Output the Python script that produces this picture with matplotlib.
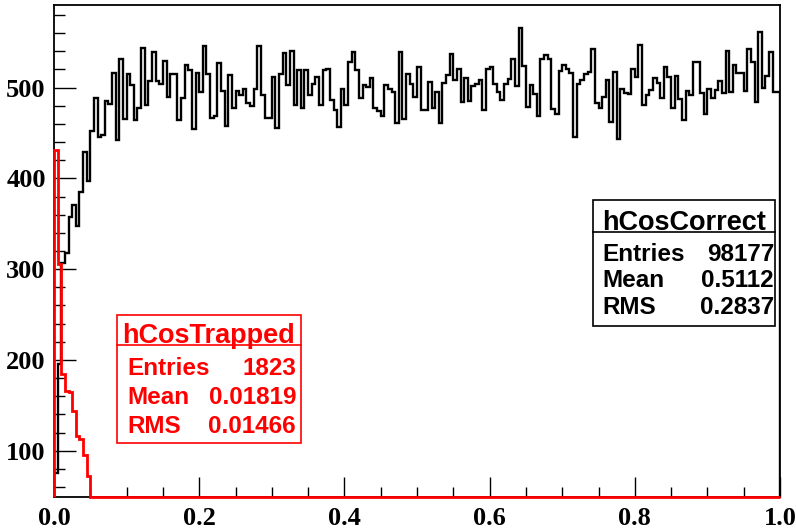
import numpy as np
import matplotlib
matplotlib.use("Agg")
import matplotlib.pyplot as plt
from matplotlib.patches import Rectangle
from matplotlib.ticker import MultipleLocator

# 200 bins from 0 to 1
nbins = 200
edges = np.linspace(0.0, 1.0, nbins + 1)

# hCosCorrect counts
correct = [
    75, 195, 307, 318, 358, 371, 348, 385, 429, 397,
    452, 488, 446, 448, 485, 482, 516, 442, 531, 465,
    515, 503, 464, 478, 544, 481, 507, 539, 507, 504,
    529, 490, 515, 515, 464, 489, 525, 519, 454, 516,
    495, 546, 515, 467, 469, 527, 496, 458, 514, 478,
    496, 492, 499, 483, 480, 499, 546, 492, 467, 466,
    512, 456, 515, 538, 503, 540, 481, 519, 478, 519,
    492, 504, 512, 481, 519, 520, 486, 475, 457, 499,
    481, 528, 539, 519, 489, 503, 501, 511, 478, 474,
    469, 503, 498, 495, 461, 539, 465, 515, 504, 490,
    523, 475, 475, 506, 478, 495, 461, 505, 514, 537,
    508, 520, 484, 511, 485, 502, 504, 508, 475, 520,
    523, 504, 495, 486, 504, 510, 531, 502, 566, 524,
    479, 503, 493, 469, 531, 536, 531, 476, 471, 518,
    525, 520, 516, 446, 504, 508, 515, 517, 542, 483,
    478, 490, 508, 462, 517, 443, 499, 494, 493, 520,
    512, 547, 481, 492, 497, 511, 505, 488, 523, 512,
    477, 513, 487, 464, 496, 492, 528, 528, 494, 471,
    498, 489, 497, 507, 494, 540, 495, 525, 516, 516,
    496, 542, 528, 484, 561, 500, 513, 539, 495, 495,
]

# hCosTrapped counts (only the first bins are filled)
trapped_head = [431, 306, 184, 166, 165, 144, 116, 113, 95, 72, 20, 8, 3]
trapped = trapped_head + [0] * (nbins - len(trapped_head))

correct_stats = [("Entries", "98177"), ("Mean", "0.5112"), ("RMS", "0.2837")]
trapped_stats = [("Entries", "1823"), ("Mean", "0.01819"), ("RMS", "0.01466")]

ymin, ymax = 49, 591
W, H = 796, 529

fig = plt.figure(figsize=(W / 100, H / 100), dpi=100)
ax = fig.add_axes([54 / W, 1 - 497 / H, (780 - 54) / W, (497 - 5) / H])

ax.stairs(np.maximum(correct, ymin), edges, color="black", linewidth=1.7,
          baseline=ymin, zorder=3)
ax.stairs(np.maximum(trapped, ymin), edges, color="#ff0000", linewidth=2.0,
          baseline=ymin, zorder=4, clip_on=False)

ax.set_xlim(0, 1)
ax.set_ylim(ymin, ymax)

ax.xaxis.set_major_locator(MultipleLocator(0.2))
ax.xaxis.set_minor_locator(MultipleLocator(0.05))
ax.yaxis.set_major_locator(MultipleLocator(100))
ax.yaxis.set_minor_locator(MultipleLocator(20))
ax.xaxis.set_major_formatter(lambda v, p: f"{v:.1f}")
ax.yaxis.set_major_formatter(lambda v, p: f"{v:.0f}")

ax.tick_params(axis="x", which="major", direction="in", length=14.4, width=1.0, pad=7)
ax.tick_params(axis="x", which="minor", direction="in", length=7.2, width=1.0)
ax.tick_params(axis="y", which="major", direction="in", length=15.8, width=1.0, pad=6)
ax.tick_params(axis="y", which="minor", direction="in", length=7.9, width=1.0)
for lab in ax.get_xticklabels() + ax.get_yticklabels():
    lab.set_fontfamily("Liberation Serif")
    lab.set_fontweight("bold")
    lab.set_fontsize(19)
for s in ax.spines.values():
    s.set_linewidth(1.3)


def fx(x):
    return x / W


def fy(y):
    return 1 - y / H


def stat_box(x0, x1, y0, y1, ysep, title, title_base, rows, row_base, lx, rx, color):
    fig.add_artist(Rectangle((fx(x0), fy(y1)), fx(x1) - fx(x0), fy(y0) - fy(y1),
                             transform=fig.transFigure, facecolor="white",
                             edgecolor=color, linewidth=1.2, zorder=5))
    fig.add_artist(plt.Line2D([fx(x0), fx(x1)], [fy(ysep), fy(ysep)],
                              transform=fig.transFigure, color=color,
                              linewidth=1.2, zorder=6))
    fig.text(fx((x0 + x1) / 2), fy(title_base), title, ha="center", va="baseline",
             fontsize=19.5, fontweight="bold", family="Liberation Sans",
             color=color, zorder=7)
    for (name, val), yb in zip(rows, row_base):
        fig.text(fx(lx), fy(yb), name, ha="left", va="baseline", fontsize=17.5,
                 fontweight="bold", family="Liberation Sans", color=color, zorder=7)
        fig.text(fx(rx), fy(yb), val, ha="right", va="baseline", fontsize=17.5,
                 fontweight="bold", family="Liberation Sans", color=color, zorder=7)


stat_box(593, 775, 200, 326, 232, "hCosCorrect", 229.5, correct_stats,
         [260.7, 286.7, 314], 602, 774, "black")
stat_box(117, 301, 315, 443, 345, "hCosTrapped", 343, trapped_stats,
         [375, 404, 432.7], 127, 296, "#ff0000")

fig.savefig("out.png", dpi=100)
